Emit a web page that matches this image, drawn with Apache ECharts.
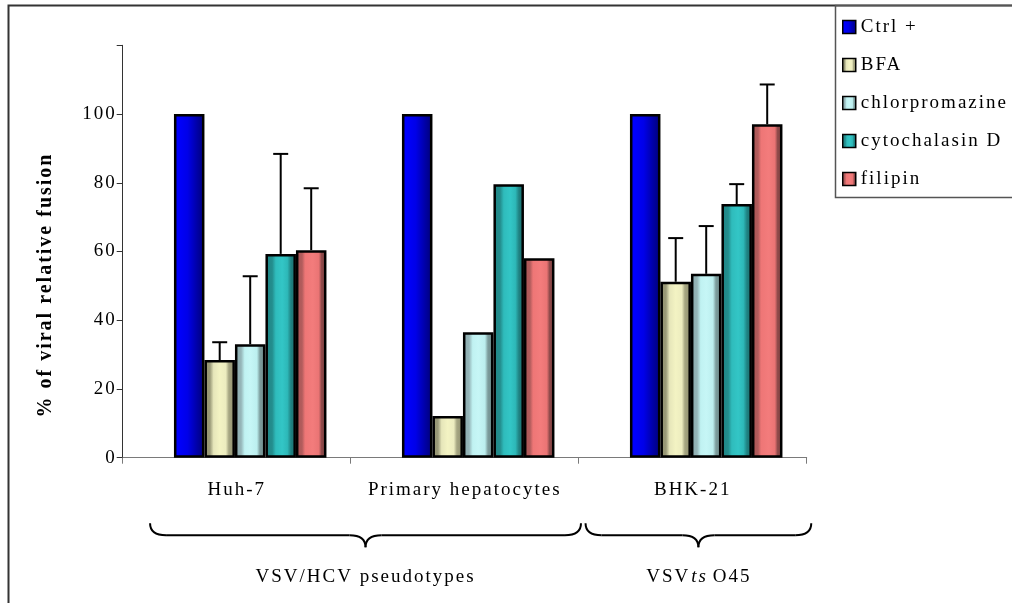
<!DOCTYPE html>
<html>
<head>
<meta charset="utf-8">
<script src="https://cdn.jsdelivr.net/npm/echarts@6/dist/echarts.min.js"></script>
<style>
  html, body { margin: 0; padding: 0; background: #fff; }
  #chart { width: 1012px; height: 603px; }
</style>
</head>
<body>
<div id="chart"></div>
<script>
// Cell lines (x categories) and treatments (series)
const categories = ['Huh-7', 'Primary hepatocytes', 'BHK-21'];
const treatments = ['Ctrl +', 'BFA', 'chlorpromazine', 'cytochalasin D', 'filipin'];

// % of viral relative fusion per cell line
const ctrlValues = [100, 100, 100];
const bfaValues = [28.4, 12.1, 51.2];
const chlorpromazineValues = [33.0, 36.5, 53.5];
const cytochalasinValues = [59.3, 79.6, 73.8];
const filipinValues = [60.4, 58.0, 97.0];

// Upper error (SD); null means no error bar
const ctrlErrors = [null, null, null];
const bfaErrors = [5.2, null, 12.7];
const chlorpromazineErrors = [19.8, null, 13.9];
const cytochalasinErrors = [29.1, null, 5.8];
const filipinErrors = [18.0, null, 11.6];

// Y axis
const yTickLabels = [0, 20, 40, 60, 80, 100];
const yMax = 120;
const yTitle = '% of viral relative fusion';

// Bracketed groups under the axis (span given in category units)
const groupLabels = ['VSV/HCV pseudotypes', '{v|VSV}{i|ts} O45'];
const groupSpans = [[-0.38, 1.51], [1.53, 2.52]];

const FONT = 'Liberation Serif';
const TRACKING = 2;   // px of extra space between letters
const BAR_W = 30.5;   // width of each treatment bar
const LEAD_W = 27;    // empty slot before the first bar of every group
const CAP_W = 15;     // error-bar cap width

const values = [ctrlValues, bfaValues, chlorpromazineValues, cytochalasinValues, filipinValues];
const errors = [ctrlErrors, bfaErrors, chlorpromazineErrors, cytochalasinErrors, filipinErrors];

function hgrad(stops) {
  return {
    type: 'linear', x: 0, y: 0, x2: 1, y2: 0,
    colorStops: stops.map(s => ({ offset: s[0], color: s[1] }))
  };
}
const fills = [
  hgrad([[0, '#0000f0'], [0.12, '#0000ff'], [0.45, '#0000e8'], [0.75, '#0000a8'], [1, '#000076']]),
  hgrad([[0, '#94946f'], [0.18, '#9a9a78'], [0.3, '#e6e6ba'], [0.5, '#f3f3c3'], [0.7, '#ececbf'], [0.8, '#a6a682'], [1, '#8e8e6e']]),
  hgrad([[0, '#8aaaae'], [0.2, '#95b5b8'], [0.32, '#c0f2f2'], [0.5, '#c6f6f6'], [0.72, '#bcefef'], [0.82, '#7c9c9c'], [1, '#6c8a8a']]),
  hgrad([[0, '#1f8585'], [0.22, '#238d8d'], [0.34, '#2fbcbc'], [0.55, '#33c6c6'], [0.72, '#2db8b8'], [0.84, '#1f8080'], [1, '#1a7070']]),
  hgrad([[0, '#a85454'], [0.2, '#b25c5c'], [0.3, '#ee7676'], [0.55, '#f37c7c'], [0.75, '#ea7474'], [0.84, '#8e4a4a'], [1, '#7e4040']])
];

const barSeries = [{
  type: 'bar',
  name: 'lead',
  data: categories.map(() => '-'),
  barWidth: LEAD_W,
  barGap: '0%',
  silent: true
}].concat(treatments.map((name, i) => ({
  type: 'bar',
  name: name,
  data: values[i],
  barWidth: BAR_W,
  barGap: '0%',
  itemStyle: { color: fills[i], borderColor: '#000', borderWidth: 2.5 },
  emphasis: { disabled: true }
})));

const errorData = [];
errors.forEach((errs, si) => {
  errs.forEach((e, ci) => {
    if (e != null) errorData.push([ci, values[si][ci], e, si]);
  });
});

const errorSeries = {
  type: 'custom',
  name: 'error',
  z: 5,
  silent: true,
  data: errorData,
  encode: { x: 0, y: 1 },
  renderItem(params, api) {
    const ci = api.value(0), v = api.value(1), e = api.value(2), si = api.value(3);
    const base = api.coord([ci, v]);
    const top = api.coord([ci, v + e]);
    const total = LEAD_W + BAR_W * treatments.length;
    const x = base[0] - total / 2 + LEAD_W + BAR_W * si + BAR_W / 2;
    const st = { stroke: '#000', lineWidth: 2 };
    return {
      type: 'group',
      children: [
        { type: 'line', shape: { x1: x, y1: base[1], x2: x, y2: top[1] }, style: st },
        { type: 'line', shape: { x1: x - CAP_W / 2, y1: top[1], x2: x + CAP_W / 2, y2: top[1] }, style: st }
      ]
    };
  }
};

const chart = echarts.init(document.getElementById('chart'), null, { renderer: 'canvas' });

chart.setOption({
  animation: false,
  backgroundColor: '#fff',
  textStyle: { fontFamily: FONT },
  grid: { left: 122.7, right: 205.3, top: 45.3, bottom: 145.3, containLabel: false, outerBoundsMode: 'none' },
  legend: {
    orient: 'vertical',
    left: 842, top: 17,
    padding: 0,
    itemGap: 18,
    itemWidth: 13, itemHeight: 13,
    icon: 'rect',
    selectedMode: false,
    data: treatments,
    itemStyle: { borderColor: '#000', borderWidth: 1.5 },
    textStyle: { fontFamily: FONT, fontSize: 19, color: '#000', lineHeight: 20 }
  },
  xAxis: {
    type: 'category',
    data: categories,
    axisLine: { lineStyle: { color: '#7a7a7a', width: 1 } },
    axisTick: { show: true, length: 6, lineStyle: { color: '#7a7a7a' } },
    axisLabel: { color: '#000', fontFamily: FONT, fontSize: 19, margin: 23 },
    splitLine: { show: false }
  },
  yAxis: {
    type: 'value',
    min: 0, max: yMax, interval: 20,
    axisLine: { show: true, lineStyle: { color: '#333', width: 1 } },
    axisTick: { show: true, length: 6, lineStyle: { color: '#333' } },
    axisLabel: {
      color: '#000', fontFamily: FONT, fontSize: 19, margin: 6,
      formatter: v => (yTickLabels.indexOf(v) >= 0 ? String(v) : '')
    },
    splitLine: { show: false }
  },
  series: barSeries.concat([errorSeries])
});

// the canvas layer exists once the first frame is painted
chart.getZr().flush();
// widen the letter spacing of every text drawn on the chart canvas
chart.getDom().querySelectorAll('canvas').forEach(c => {
  const ctx = c.getContext('2d');
  if ('letterSpacing' in ctx) ctx.letterSpacing = TRACKING + 'px';
});

// Frame, legend box, axis title and group braces
function buildGraphics() {
  const p0 = chart.convertToPixel({ xAxisIndex: 0 }, 0);
  const p1 = chart.convertToPixel({ xAxisIndex: 0 }, 1);
  const band = p1 - p0;
  const axisY = chart.convertToPixel({ yAxisIndex: 0 }, 0);
  const catX = f => p0 + f * band;

  const yTop = axisY + 65.5, yMid = axisY + 77.5, yTip = axisY + 89.5, r = 16;
  const st = { stroke: '#000', lineWidth: 2, fill: null };
  const els = [
    { type: 'polyline', shape: { points: [[8.5, 603], [8.5, 5.5], [1012, 5.5]] }, style: { stroke: '#333', lineWidth: 2, fill: null } },
    { type: 'rect', shape: { x: 835.5, y: 5.5, width: 200, height: 192 }, style: { stroke: '#555', lineWidth: 1.5, fill: null } },
    {
      type: 'text', x: 46, y: 285, rotation: Math.PI / 2,
      style: { text: yTitle, fontFamily: FONT, fontSize: 20, fontWeight: 'bold', fill: '#000', align: 'center', verticalAlign: 'middle' }
    }
  ];

  groupSpans.forEach((span, gi) => {
    const x0 = catX(span[0]), x1 = catX(span[1]), xm = (x0 + x1) / 2;
    els.push(
      { type: 'bezierCurve', shape: { x1: x0, y1: yTop, x2: x0 + r, y2: yMid, cpx1: x0, cpy1: yMid }, style: st },
      { type: 'line', shape: { x1: x0 + r, y1: yMid, x2: xm - r, y2: yMid }, style: st },
      { type: 'bezierCurve', shape: { x1: xm - r, y1: yMid, x2: xm, y2: yTip, cpx1: xm, cpy1: yMid }, style: st },
      { type: 'bezierCurve', shape: { x1: xm, y1: yTip, x2: xm + r, y2: yMid, cpx1: xm, cpy1: yMid }, style: st },
      { type: 'line', shape: { x1: xm + r, y1: yMid, x2: x1 - r, y2: yMid }, style: st },
      { type: 'bezierCurve', shape: { x1: x1 - r, y1: yMid, x2: x1, y2: yTop, cpx1: x1, cpy1: yMid }, style: st },
      {
        type: 'text', x: xm, y: axisY + 119,
        style: {
          text: groupLabels[gi], fontFamily: FONT, fontSize: 19, fill: '#000',
          align: 'center', verticalAlign: 'middle',
          rich: {
            v: { fontFamily: FONT, fontSize: 19, fill: '#000', padding: [0, 3 * TRACKING, 0, 0] },
            i: { fontFamily: FONT, fontSize: 19, fill: '#000', fontStyle: 'italic', padding: [0, 2 * TRACKING, 0, 0] }
          }
        }
      }
    );
  });
  chart.setOption({ graphic: { elements: els } });
  chart.getZr().flush();
}
buildGraphics();
</script>
</body>
</html>
